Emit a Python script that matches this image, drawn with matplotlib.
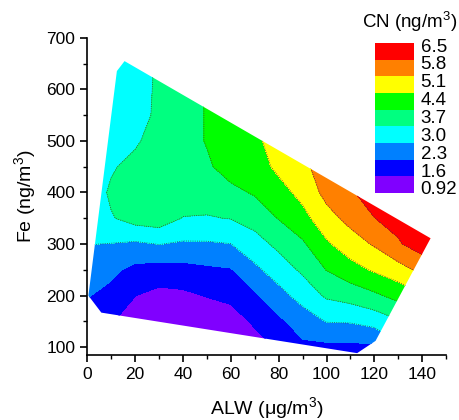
import matplotlib
matplotlib.use("Agg")
import matplotlib.pyplot as plt
import numpy as np
from matplotlib.colors import ListedColormap, BoundaryNorm
from matplotlib.patches import Polygon

plt.rcParams['font.family'] = ['Liberation Sans', 'DejaVu Sans']
plt.rcParams['mathtext.fontset'] = 'custom'
plt.rcParams['mathtext.rm'] = 'Liberation Sans'
plt.rcParams['mathtext.it'] = 'Liberation Sans:italic'

# grid nodes
alw = [0, 10, 20, 30, 40, 50, 60, 70, 80, 90, 100, 110, 120, 130, 140, 150]
fe = [50, 100, 150, 200, 250, 300, 350, 400, 450, 500, 550, 600, 650, 700]

# CN (ng/m3), one list per ALW column, bottom (Fe=50) to top (Fe=700)
cn_cols = [
    [1.95, 1.95, 2.02, 2.34, 2.65, 3.02, 3.14, 3.14, 3.14, 3.21, 3.28, 3.35, 3.35, 3.35],
    [1.81, 1.88, 1.64, 2.10, 2.45, 2.98, 3.64, 3.83, 3.60, 3.42, 3.35, 3.35, 3.35, 3.35],
    [1.18, 1.22, 1.32, 1.61, 2.11, 2.89, 3.99, 4.05, 3.98, 3.56, 3.35, 3.32, 3.32, 3.32],
    [1.01, 1.01, 1.08, 1.40, 2.00, 3.02, 4.09, 4.12, 4.16, 4.14, 3.88, 3.85, 3.81, 3.77],
    [1.04, 1.04, 1.11, 1.46, 2.05, 2.91, 3.67, 4.12, 4.16, 4.12, 4.12, 4.12, 4.12, 4.12],
    [0.97, 0.97, 1.18, 1.63, 2.17, 2.92, 3.66, 3.96, 4.30, 4.44, 4.44, 4.44, 4.44, 4.44],
    [0.94, 0.94, 1.25, 1.78, 2.25, 2.99, 3.72, 4.23, 4.68, 4.75, 4.75, 4.75, 4.75, 4.75],
    [0.97, 1.25, 1.72, 2.20, 2.85, 3.42, 3.97, 4.47, 4.75, 5.00, 5.03, 5.03, 5.03, 5.03],
    [1.74, 1.69, 2.16, 2.76, 3.33, 3.87, 4.43, 4.82, 5.27, 5.31, 5.35, 5.38, 5.38, 5.38],
    [1.95, 2.16, 2.62, 3.27, 3.82, 4.30, 4.86, 5.33, 5.70, 5.73, 5.77, 5.77, 5.77, 5.77],
    [2.02, 2.13, 3.03, 3.80, 4.42, 5.00, 5.56, 6.00, 6.01, 6.05, 6.05, 6.05, 6.05, 6.05],
    [2.02, 2.13, 3.06, 3.99, 4.83, 5.49, 6.00, 6.43, 6.47, 6.52, 6.52, 6.52, 6.52, 6.52],
    [2.02, 2.16, 3.26, 4.27, 5.19, 5.87, 6.49, 6.78, 6.85, 6.85, 6.85, 6.85, 6.85, 6.85],
    [2.32, 2.86, 3.63, 4.63, 5.52, 6.43, 6.71, 6.85, 6.85, 6.85, 6.85, 6.85, 6.85, 6.85],
    [2.65, 3.35, 4.12, 5.03, 5.98, 6.85, 6.99, 6.99, 6.99, 6.99, 6.99, 6.99, 6.99, 6.99],
    [3.02, 3.72, 4.42, 5.31, 6.22, 7.06, 7.13, 7.13, 7.13, 7.13, 7.13, 7.13, 7.13, 7.13],
]

# outline of the sampled region
hull_alw = [12.4, 15.6, 143.5, 120.5, 112.8, 5.9, 0.5]
hull_fe = [635.5, 654.8, 311.2, 112.2, 88.4, 167.0, 200.0]

levels = [0.92, 1.6, 2.3, 3.0, 3.7, 4.4, 5.1, 5.8, 6.5, 7.2]
level_labels = ['0.92', '1.6', '2.3', '3.0', '3.7', '4.4', '5.1', '5.8', '6.5']
colors = ['#8000FF', '#0000FF', '#0080FF', '#00FFFF', '#00FF80',
          '#00FF00', '#FFFF00', '#FF8000', '#FF0000']

X, Y = np.meshgrid(alw, fe)
Z = np.array(cn_cols).T

cmap = ListedColormap(colors)
norm = BoundaryNorm(levels, cmap.N)

fig = plt.figure(figsize=(4.59, 4.2), dpi=100)
ax = fig.add_axes([0.19, 0.155, 0.782, 0.755])

clip = Polygon(np.column_stack([hull_alw, hull_fe]), closed=True,
               facecolor='none', edgecolor='none')
ax.add_patch(clip)

cf = ax.contourf(X, Y, Z, levels=levels, cmap=cmap, norm=norm)
cf.set_clip_path(clip)
cl = ax.contour(X, Y, Z, levels=levels[3:9], colors='#404040',
                linewidths=0.6, linestyles=':')
cl.set_clip_path(clip)

ax.set_xlim(0, 150)
ax.set_ylim(85, 700)
ax.set_xticks(np.arange(0, 141, 20))
ax.set_xticks(np.arange(10, 151, 10), minor=True)
ax.set_yticks(np.arange(100, 701, 100))
ax.set_yticks(np.arange(100, 701, 50), minor=True)
ax.spines['top'].set_visible(False)
ax.spines['right'].set_visible(False)
for s in ['left', 'bottom']:
    ax.spines[s].set_linewidth(1.2)
ax.tick_params(which='major', direction='out', length=5, width=1.2, labelsize=12.5)
ax.tick_params(which='minor', direction='out', length=3, width=1.0)
ax.set_xlabel('ALW (μg/m$^3$)', fontsize=14, labelpad=10)
ax.set_ylabel('Fe (ng/m$^3$)', fontsize=14, labelpad=6)

# colour key
cax = fig.add_axes([0.817, 0.5405, 0.084, 0.357])
for i, c in enumerate(colors):
    cax.add_patch(plt.Rectangle((0, i), 1, 1, facecolor=c, edgecolor='none'))
cax.set_xlim(0, 1)
cax.set_ylim(0, len(colors))
cax.set_xticks([])
cax.yaxis.tick_right()
cax.set_yticks(0.3 + np.arange(len(colors)) * 1.0725)
cax.set_yticklabels(level_labels, fontsize=13.5)
cax.tick_params(axis='y', length=0, pad=5)
for s in cax.spines.values():
    s.set_visible(False)
fig.text(0.893, 0.948, 'CN (ng/m$^3$)', ha='center', va='center', fontsize=13.5)

fig.savefig('out.png', dpi=100)
